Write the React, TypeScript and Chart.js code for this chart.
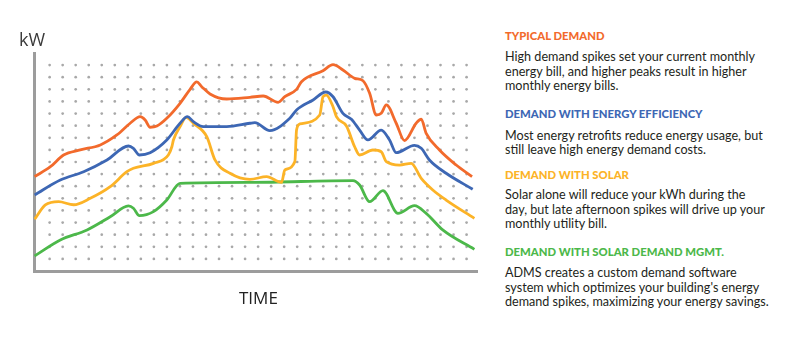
import React, { useEffect, useRef } from "react";
import { Chart, registerables } from "chart.js";

Chart.register(...registerables);

// x: time in grid-column units, y: demand in grid-row units
const TYPICAL_X = [-0.15, 1.06, 2.07, 3.35, 4.89, 6.16, 7.18, 7.95, 8.33, 8.71, 9.23, 9.99, 11.01, 11.78, 12.29, 12.67, 13.31, 14.59, 16.37, 17.39, 18.54, 19.05, 19.95, 20.33, 21.98, 22.75, 23.51, 24.41, 25.05, 25.56, 26.07, 26.45, 26.84, 27.6, 28.24, 29.13, 29.52, 29.9, 30.92, 32.2, 33.42];
const TYPICAL_Y = [7.8, 8.61, 9.58, 10.0, 10.41, 11.23, 12.2, 12.74, 12.47, 11.87, 11.97, 12.61, 13.85, 15.0, 15.61, 15.22, 14.62, 14.2, 14.34, 14.45, 13.93, 14.39, 15.0, 15.63, 16.54, 17.04, 16.6, 15.91, 15.71, 14.67, 12.88, 13.02, 13.71, 12.2, 10.76, 12.2, 12.53, 11.37, 9.99, 8.75, 7.79];

const EFFICIENCY_X = [-0.15, 1.82, 3.61, 5.4, 7.05, 7.43, 7.89, 8.71, 9.99, 11.01, 11.57, 12.03, 12.79, 14.59, 16.37, 16.75, 17.9, 19.43, 19.95, 21.22, 22.19, 22.75, 23.51, 24.16, 24.79, 25.43, 26.45, 27.09, 27.6, 29.0, 29.52, 30.15, 31.43, 33.47];
const EFFICIENCY_Y = [6.28, 7.51, 8.2, 9.17, 10.32, 10.13, 9.58, 9.77, 10.82, 12.2, 12.74, 12.33, 11.92, 11.92, 12.2, 12.25, 11.59, 12.61, 13.29, 14.12, 14.78, 14.39, 13.02, 12.53, 11.64, 10.82, 11.64, 10.82, 9.77, 10.38, 10.13, 9.17, 8.07, 6.75];

const SOLAR_X = [-0.15, 0.67, 1.69, 2.84, 4.12, 5.65, 6.93, 7.43, 8.97, 10.11, 10.38, 10.5, 11.01, 11.47, 12.03, 13.06, 13.69, 14.84, 16.37, 17.65, 18.8, 19.05, 19.82, 19.95, 20.2, 21.73, 21.98, 22.24, 22.75, 23.01, 23.78, 24.41, 24.79, 25.81, 26.45, 26.84, 27.86, 28.75, 29.52, 30.41, 31.43, 33.6];
const SOLAR_Y = [4.27, 5.45, 5.72, 5.47, 6.0, 6.96, 8.2, 8.48, 8.89, 9.58, 10.26, 10.82, 11.92, 12.69, 12.2, 11.09, 9.17, 8.07, 7.57, 7.79, 7.32, 8.34, 9.03, 11.64, 12.14, 12.88, 14.39, 14.53, 13.56, 12.74, 11.97, 10.26, 9.58, 9.99, 9.85, 9.03, 8.75, 8.89, 7.65, 6.69, 5.86, 4.35];

const MGMT_X = [-0.15, 1.82, 3.87, 5.65, 7.05, 7.43, 7.89, 8.97, 9.99, 11.01, 16.37, 24.28, 24.79, 25.56, 26.58, 27.73, 29.0, 29.9, 31.17, 33.6];
const MGMT_Y = [1.24, 2.56, 3.39, 4.48, 5.37, 5.18, 4.57, 4.9, 5.86, 7.24, 7.32, 7.46, 7.1, 5.72, 6.63, 4.76, 5.39, 4.76, 3.39, 1.79];

const DOT_COLUMNS = Array.from({ length: 33 }, (_, i) => i + 1);
const DOT_ROWS = Array.from({ length: 17 }, (_, i) => i + 1);

const COLORS = {
  typical: "#f26a2c",
  efficiency: "#3d67b4",
  solar: "#fcb327",
  mgmt: "#4cb84a",
};

const toPoints = (xs: number[], ys: number[]) => xs.map((x, i) => ({ x, y: ys[i] }));

const dotGrid = {
  id: "dotGrid",
  beforeDatasetsDraw(chart: any) {
    const { ctx, scales } = chart;
    ctx.save();
    ctx.fillStyle = "#a8a8a8";
    for (const c of DOT_COLUMNS) {
      for (const r of DOT_ROWS) {
        const px = scales.x.getPixelForValue(c);
        const py = scales.y.getPixelForValue(r);
        ctx.beginPath();
        ctx.arc(px, py, 1.35, 0, Math.PI * 2);
        ctx.fill();
      }
    }
    ctx.restore();
  },
};

function DemandChart() {
  const ref = useRef<HTMLCanvasElement | null>(null);
  useEffect(() => {
    if (!ref.current) return;
    const mk = (label: string, xs: number[], ys: number[], color: string) => ({
      label,
      data: toPoints(xs, ys),
      borderColor: color,
      backgroundColor: color,
      borderWidth: 2.8,
      pointRadius: 0,
      cubicInterpolationMode: "monotone" as const,
      fill: false,
    });
    const chart = new Chart(ref.current, {
      type: "line",
      data: {
        datasets: [
          mk("Typical Demand", TYPICAL_X, TYPICAL_Y, COLORS.typical),
          mk("Demand with Energy Efficiency", EFFICIENCY_X, EFFICIENCY_Y, COLORS.efficiency),
          mk("Demand with Solar", SOLAR_X, SOLAR_Y, COLORS.solar),
          mk("Demand with Solar Demand Mgmt.", MGMT_X, MGMT_Y, COLORS.mgmt),
        ],
      },
      options: {
        animation: false,
        responsive: true,
        maintainAspectRatio: false,
        layout: { padding: { left: 34, top: 53, right: 13, bottom: 80 } },
        plugins: { legend: { display: false }, tooltip: { enabled: false } },
        scales: {
          x: {
            type: "linear",
            min: -0.2,
            max: 33.8,
            ticks: { display: false },
            grid: { display: false, drawTicks: false },
            border: { display: true, color: "#9c9c9c", width: 3 },
          },
          y: {
            type: "linear",
            min: 0,
            max: 18,
            ticks: { display: false },
            grid: { display: false, drawTicks: false },
            border: { display: true, color: "#9c9c9c", width: 3 },
          },
        },
      },
      plugins: [dotGrid],
    });
    return () => chart.destroy();
  }, []);
  return <canvas ref={ref} />;
}

const headStyle = (color: string, top: number): React.CSSProperties => ({
  position: "absolute",
  left: 505,
  top,
  color,
  fontFamily: "Lato, sans-serif",
  fontWeight: 900,
  fontSize: 11.3,
  lineHeight: "14px",
  whiteSpace: "nowrap",
});

const bodyStyle = (top: number): React.CSSProperties => ({
  position: "absolute",
  left: 505,
  top,
  color: "#231f20",
  fontFamily: "Lato, sans-serif",
  fontSize: 12.6,
  lineHeight: "14.5px",
  whiteSpace: "nowrap",
});

export default function App() {
  return (
    <div style={{ position: "absolute", left: 0, top: 0, width: 800, height: 351, background: "#fff", overflow: "hidden" }}>
      <div style={{ position: "absolute", left: 0, top: 0, width: 490, height: 351 }}>
        <DemandChart />
      </div>
      <div style={{ position: "absolute", left: 19, top: 28, fontFamily: "'Open Sans', sans-serif", fontSize: 18, lineHeight: "22px", color: "#3a3a3a" }}>kW</div>
      <div style={{ position: "absolute", left: 239, top: 287, fontFamily: "'Open Sans', sans-serif", fontSize: 17, lineHeight: "22px", color: "#222" }}>TIME</div>

      <div style={headStyle(COLORS.typical, 29)}>TYPICAL DEMAND</div>
      <div style={bodyStyle(50)}>
        High demand spikes set your current monthly<br />energy bill, and higher peaks result in higher<br />monthly energy bills.
      </div>
      <div style={headStyle(COLORS.efficiency, 107)}>DEMAND WITH ENERGY EFFICIENCY</div>
      <div style={bodyStyle(128.5)}>
        Most energy retrofits reduce energy usage, but<br />still leave high energy demand costs.
      </div>
      <div style={headStyle(COLORS.solar, 168)}>DEMAND WITH SOLAR</div>
      <div style={bodyStyle(188)}>
        Solar alone will reduce your kWh during the<br />day, but late afternoon spikes will drive up your<br />monthly utility bill.
      </div>
      <div style={headStyle(COLORS.mgmt, 244.5)}>DEMAND WITH SOLAR DEMAND MGMT.</div>
      <div style={bodyStyle(266)}>
        ADMS creates a custom demand software<br />system which optimizes your building's energy<br />demand spikes, maximizing your energy savings.
      </div>
    </div>
  );
}
